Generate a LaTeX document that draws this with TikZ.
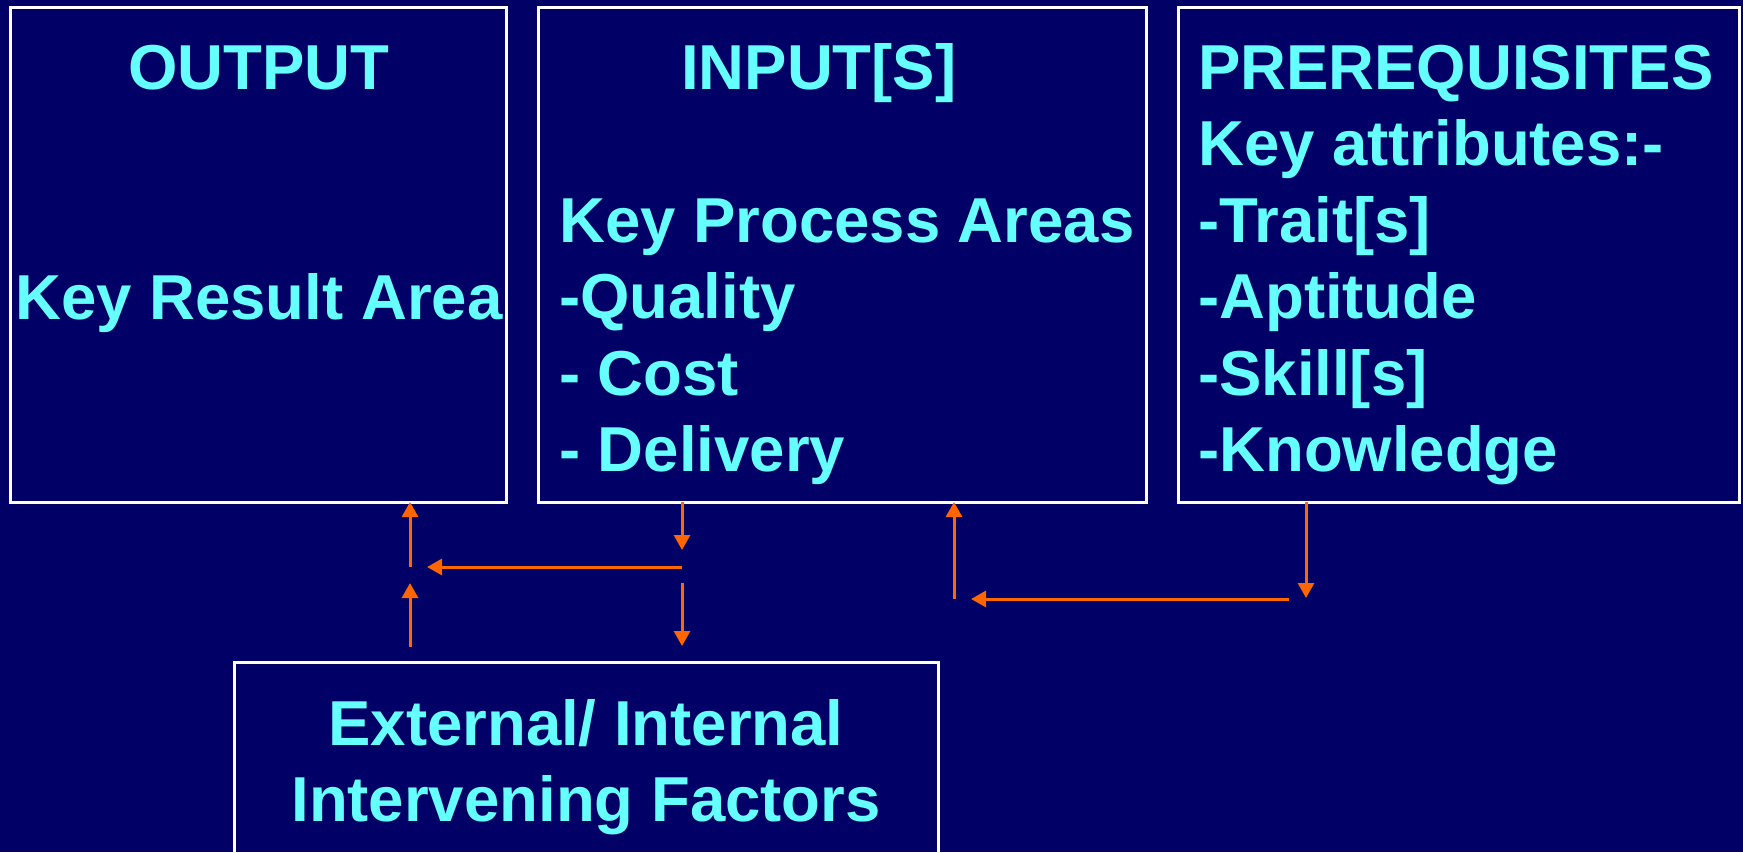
\documentclass[tikz,border=0pt]{standalone}
\usepackage{fontspec}
\setmainfont{Liberation Sans}
\usetikzlibrary{arrows.meta}
\definecolor{bgnavy}{HTML}{000066}
\definecolor{txtcyan}{HTML}{66FFFF}
\definecolor{arrorange}{HTML}{FF6600}
\begin{document}
\begin{tikzpicture}[x=1pt,y=-1pt,
  frame/.style={draw=white, line width=3pt, anchor=north west, inner sep=0pt, outer sep=0pt},
  caption/.style={text=txtcyan, inner sep=0pt, font=\fontsize{63.5}{76.5}\selectfont\bfseries},
  flow/.style={draw=arrorange, line width=3pt, -{Triangle[width=16pt,length=15pt]}}]
\fill[bgnavy] (0,0) rectangle (1743,852);
\useasboundingbox (0,0) rectangle (1743,852);
\clip (0,0) rectangle (1743,852);

% boxes
\node[frame, minimum width=496pt, minimum height=495pt] (out) at (10,7) {};
\node[frame, minimum width=608pt, minimum height=495pt] (inp) at (538,7) {};
\node[frame, minimum width=561pt, minimum height=495pt] (pre) at (1178,7) {};
\node[frame, minimum width=704pt, minimum height=260pt] (ext) at (234,662) {};

% texts
\node[caption, anchor=base] (outtitle) at (259,89) {OUTPUT};
\node[caption, anchor=base] (outbody) at (259,319) {Key Result Area};
\node[caption, anchor=base west] (inptitle) at (681,89) {INPUT[S]};
\node[caption, anchor=base west] (inpbody) at (559,242)
  {\begin{tabular}[t]{@{}l@{}}Key Process Areas\\ -Quality\\ - Cost\\ - Delivery\end{tabular}};
\node[caption, anchor=base west] (prebody) at (1198,89)
  {\begin{tabular}[t]{@{}l@{}}PREREQUISITES\\ Key attributes:-\\ -Trait[s]\\ -Aptitude\\ -Skill[s]\\ -Knowledge\end{tabular}};
\node[caption, anchor=base] (extbody) at (586,745)
  {\begin{tabular}[t]{@{}c@{}}External/ Internal\\ Intervening Factors\end{tabular}};

% connector points
\coordinate (jl) at (410,567);
\coordinate (jlt) at (427,567);
\coordinate (extup) at (410,647);
\coordinate (jl2) at (410,583);
\coordinate (jr) at (682,567);
\coordinate (jr1) at (682,550);
\coordinate (jr2) at (682,583);
\coordinate (jr3) at (682,646);
\coordinate (iu) at (954,599);
\coordinate (hl) at (971,599);
\coordinate (hr) at (1289,599);
\coordinate (pd) at (1306,598);

% connectors
\draw[flow] (jl) -- (jl |- out.south);
\draw[flow] (extup) -- (jl2);
\draw[flow] (jr) -- (jlt);
\draw[flow] (inp.south -| jr) -- (jr1);
\draw[flow] (jr2) -- (jr3);
\draw[flow] (iu) -- (iu |- inp.south);
\draw[flow] (hr) -- (hl);
\draw[flow] (pre.south -| pd) -- (pd);
\end{tikzpicture}
\end{document}
